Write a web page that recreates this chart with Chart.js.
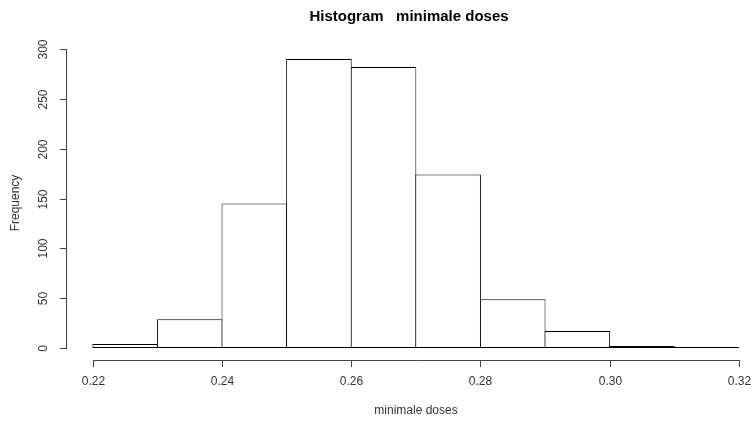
<!DOCTYPE html>
<html>
<head>
<meta charset="utf-8">
<script src="https://cdn.jsdelivr.net/npm/chart.js@4"></script>
<style>
  html, body { margin: 0; padding: 0; background: #fff; }
  #wrap { width: 752px; height: 423px; }
</style>
</head>
<body>
<div id="wrap"><canvas id="hist"></canvas></div>
<script>
// ===============================
// DATA
// ===============================
const binCenters = [0.225, 0.235, 0.245, 0.255, 0.265, 0.275, 0.285, 0.295, 0.305, 0.315];
const counts = [4, 29, 145, 290, 282, 174, 49, 17, 2, 1];
const xTicks = [0.22, 0.24, 0.26, 0.28, 0.30, 0.32];
const yTicks = [0, 50, 100, 150, 200, 250, 300];

const FONT = "'Liberation Sans', Arial, sans-serif";

// ===============================
// R STYLE AXES
// ===============================
const rAxes = {
    id: "rAxes",
    afterDraw(chart) {
        const ctx = chart.ctx;
        const xs = chart.scales.x;
        const ys = chart.scales.y;
        const area = chart.chartArea;
        const axisX = area.bottom;
        const axisY = area.left;

        ctx.save();
        ctx.strokeStyle = "#444";
        ctx.lineWidth = 1;
        ctx.fillStyle = "#333";
        ctx.font = "12px " + FONT;

        // x axis
        const x0 = Math.round(xs.getPixelForValue(xTicks[0])) + 0.5;
        const x1 = Math.round(xs.getPixelForValue(xTicks[xTicks.length - 1])) + 0.5;
        ctx.beginPath();
        ctx.moveTo(x0, axisX + 0.5);
        ctx.lineTo(x1, axisX + 0.5);
        ctx.stroke();
        ctx.textAlign = "center";
        ctx.textBaseline = "top";
        xTicks.forEach(t => {
            const px = Math.round(xs.getPixelForValue(t)) + 0.5;
            ctx.beginPath();
            ctx.moveTo(px, axisX);
            ctx.lineTo(px, axisX + 7);
            ctx.stroke();
            ctx.fillText(t.toFixed(2), px, axisX + 16);
        });

        // y axis
        const y0 = Math.round(ys.getPixelForValue(yTicks[0])) + 0.5;
        const y1 = Math.round(ys.getPixelForValue(yTicks[yTicks.length - 1])) + 0.5;
        ctx.beginPath();
        ctx.moveTo(axisY - 0.5, y0);
        ctx.lineTo(axisY - 0.5, y1);
        ctx.stroke();
        yTicks.forEach(t => {
            const py = Math.round(ys.getPixelForValue(t)) + 0.5;
            ctx.beginPath();
            ctx.moveTo(axisY, py);
            ctx.lineTo(axisY - 7, py);
            ctx.stroke();
            ctx.save();
            ctx.translate(axisY - 17, py);
            ctx.rotate(-Math.PI / 2);
            ctx.textAlign = "center";
            ctx.textBaseline = "bottom";
            ctx.fillText(String(t), 0, 0);
            ctx.restore();
        });

        // axis titles
        ctx.fillStyle = "#333";
        ctx.textAlign = "center";
        ctx.textBaseline = "middle";
        ctx.fillText("minimale doses", 416, 411);
        ctx.save();
        ctx.translate(16, 203);
        ctx.rotate(-Math.PI / 2);
        ctx.fillText("Frequency", 0, 0);
        ctx.restore();

        // main title
        ctx.fillStyle = "#000";
        ctx.font = "bold 15px " + FONT;
        ctx.fillText("Histogram   minimale doses", 409, 17);
        ctx.restore();
    }
};

// ===============================
// CHART
// ===============================
new Chart(document.getElementById("hist"), {
    type: "bar",
    data: {
        datasets: [{
            data: binCenters.map((c, i) => ({ x: c, y: counts[i] })),
            backgroundColor: "#ffffff",
            borderColor: "#000000",
            borderWidth: 1,
            borderSkipped: false,
            // slightly wider than the bin so neighbouring borders overlap into one line
            barPercentage: 1.0155,
            categoryPercentage: 1
        }]
    },
    options: {
        responsive: true,
        maintainAspectRatio: false,
        animation: false,
        layout: { padding: { left: 67, right: 0, top: 37, bottom: 63 } },
        plugins: {
            legend: { display: false },
            tooltip: { enabled: false }
        },
        scales: {
            x: { type: "linear", offset: false, min: 0.216, max: 0.32204, display: false },
            y: { min: -12, max: 312, display: false }
        }
    },
    plugins: [rAxes]
});
</script>
</body>
</html>
